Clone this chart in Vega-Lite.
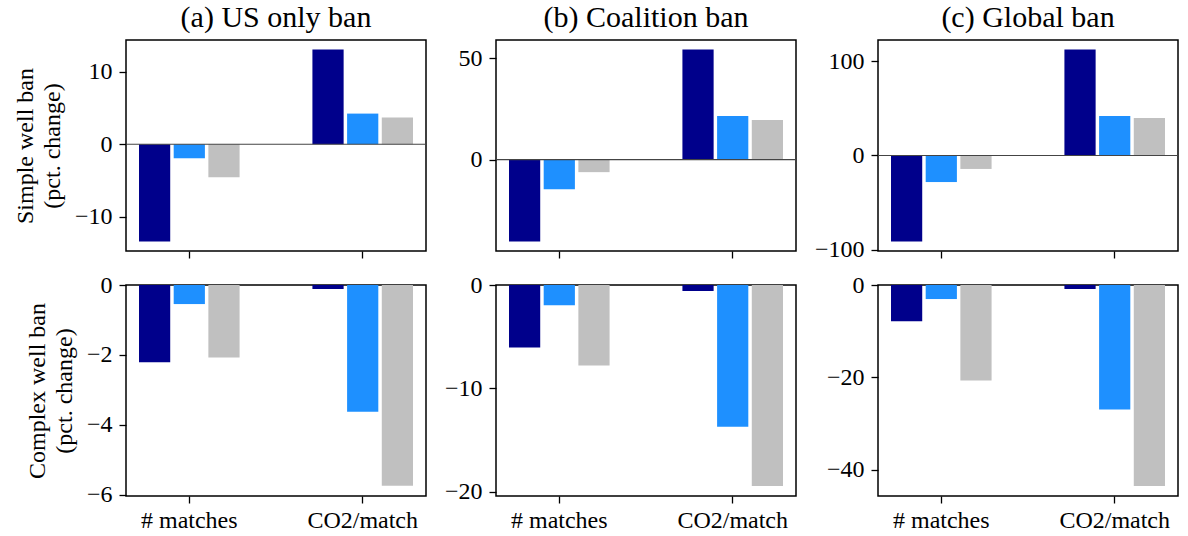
{
  "$schema": "https://vega.github.io/schema/vega-lite/v6.json",
  "padding": {"left": 12, "top": 2, "right": 0, "bottom": 0},
  "background": "white",
  "config": {
    "font": "Liberation Serif",
    "view": {"stroke": "black", "strokeWidth": 1.5},
    "axis": {
      "labelFont": "Liberation Serif",
      "labelFontSize": 24,
      "labelColor": "black",
      "titleFont": "Liberation Serif",
      "titleFontSize": 24,
      "titleFontWeight": "normal",
      "titleColor": "black",
      "titleLineHeight": 27,
      "grid": false,
      "domain": false,
      "ticks": true,
      "tickColor": "black",
      "tickWidth": 1.3,
      "tickSize": 7,
      "labelPadding": 7
    },
    "axisX": {"labelAngle": 0, "title": null, "labelPadding": 5},
    "title": {"font": "Liberation Serif", "fontSize": 30, "fontWeight": "normal", "color": "black", "offset": 7},
    "bar": {"stroke": null}
  },
  "datasets": {
    "bars": [
      {"panel": "a1", "measure": "# matches", "series": "s1", "value": -13.4},
      {"panel": "a1", "measure": "# matches", "series": "s2", "value": -1.93},
      {"panel": "a1", "measure": "# matches", "series": "s3", "value": -4.55},
      {"panel": "a1", "measure": "CO2/match", "series": "s1", "value": 13.06},
      {"panel": "a1", "measure": "CO2/match", "series": "s2", "value": 4.23},
      {"panel": "a1", "measure": "CO2/match", "series": "s3", "value": 3.68},
      {"panel": "b1", "measure": "# matches", "series": "s1", "value": -40.4},
      {"panel": "b1", "measure": "# matches", "series": "s2", "value": -14.6},
      {"panel": "b1", "measure": "# matches", "series": "s3", "value": -6.2},
      {"panel": "b1", "measure": "CO2/match", "series": "s1", "value": 54.3},
      {"panel": "b1", "measure": "CO2/match", "series": "s2", "value": 21.5},
      {"panel": "b1", "measure": "CO2/match", "series": "s3", "value": 19.5},
      {"panel": "c1", "measure": "# matches", "series": "s1", "value": -91.2},
      {"panel": "c1", "measure": "# matches", "series": "s2", "value": -28.2},
      {"panel": "c1", "measure": "# matches", "series": "s3", "value": -14.3},
      {"panel": "c1", "measure": "CO2/match", "series": "s1", "value": 112.4},
      {"panel": "c1", "measure": "CO2/match", "series": "s2", "value": 41.9},
      {"panel": "c1", "measure": "CO2/match", "series": "s3", "value": 39.8},
      {"panel": "a2", "measure": "# matches", "series": "s1", "value": -2.21},
      {"panel": "a2", "measure": "# matches", "series": "s2", "value": -0.545},
      {"panel": "a2", "measure": "# matches", "series": "s3", "value": -2.07},
      {"panel": "a2", "measure": "CO2/match", "series": "s1", "value": -0.115},
      {"panel": "a2", "measure": "CO2/match", "series": "s2", "value": -3.62},
      {"panel": "a2", "measure": "CO2/match", "series": "s3", "value": -5.74},
      {"panel": "b2", "measure": "# matches", "series": "s1", "value": -6.04},
      {"panel": "b2", "measure": "# matches", "series": "s2", "value": -1.95},
      {"panel": "b2", "measure": "# matches", "series": "s3", "value": -7.79},
      {"panel": "b2", "measure": "CO2/match", "series": "s1", "value": -0.58},
      {"panel": "b2", "measure": "CO2/match", "series": "s2", "value": -13.73},
      {"panel": "b2", "measure": "CO2/match", "series": "s3", "value": -19.45},
      {"panel": "c2", "measure": "# matches", "series": "s1", "value": -7.83},
      {"panel": "c2", "measure": "# matches", "series": "s2", "value": -3.04},
      {"panel": "c2", "measure": "# matches", "series": "s3", "value": -20.65},
      {"panel": "c2", "measure": "CO2/match", "series": "s1", "value": -0.87},
      {"panel": "c2", "measure": "CO2/match", "series": "s2", "value": -26.96},
      {"panel": "c2", "measure": "CO2/match", "series": "s3", "value": -43.5}
    ],
    "zero": [{"ref": 0}]
  },
  "columns": 3,
  "align": "each",
  "bounds": "full",
  "spacing": {"row": 9, "column": 15},
  "resolve": {"scale": {"x": "independent", "y": "independent", "xOffset": "independent"}},
  "concat": [
    {
      "width": 300, "height": 211,
      "title": "(a) US only ban",
      "layer": [
        {
          "data": {"name": "bars"},
          "transform": [{"filter": "datum.panel == 'a1'"}],
          "mark": "bar",
          "encoding": {
            "x": {"field": "measure", "type": "nominal", "sort": ["# matches", "CO2/match"], "scale": {"paddingInner": 0.4, "paddingOuter": 0.065}, "axis": {"labels": false, "title": null}},
            "xOffset": {"field": "series", "type": "nominal", "scale": {"paddingInner": 0.1, "paddingOuter": 0.05}},
            "y": {"field": "value", "type": "quantitative", "scale": {"domain": [-14.72, 14.38], "nice": false, "zero": false}, "axis": {"values": [-10, 0, 10], "title": ["Simple well ban", "(pct. change)"], "titlePadding": 10}},
            "color": {"field": "series", "type": "nominal", "scale": {"domain": ["s1", "s2", "s3"], "range": ["#00008b", "#1e90ff", "#c0c0c0"]}, "legend": null}
          }
        },
        {
          "data": {"name": "zero"},
          "mark": {"type": "rule", "color": "#444444", "strokeWidth": 1.2},
          "encoding": {"y": {"field": "ref", "type": "quantitative"}}
        }
      ]
    },
    {
      "width": 300, "height": 211,
      "title": "(b) Coalition ban",
      "layer": [
        {
          "data": {"name": "bars"},
          "transform": [{"filter": "datum.panel == 'b1'"}],
          "mark": "bar",
          "encoding": {
            "x": {"field": "measure", "type": "nominal", "sort": ["# matches", "CO2/match"], "scale": {"paddingInner": 0.4, "paddingOuter": 0.065}, "axis": {"labels": false, "title": null}},
            "xOffset": {"field": "series", "type": "nominal", "scale": {"paddingInner": 0.1, "paddingOuter": 0.05}},
            "y": {"field": "value", "type": "quantitative", "scale": {"domain": [-45.1, 59.0], "nice": false, "zero": false}, "axis": {"values": [0, 50], "title": null}},
            "color": {"field": "series", "type": "nominal", "scale": {"domain": ["s1", "s2", "s3"], "range": ["#00008b", "#1e90ff", "#c0c0c0"]}, "legend": null}
          }
        },
        {
          "data": {"name": "zero"},
          "mark": {"type": "rule", "color": "#444444", "strokeWidth": 1.2},
          "encoding": {"y": {"field": "ref", "type": "quantitative"}}
        }
      ]
    },
    {
      "width": 300, "height": 211,
      "title": "(c) Global ban",
      "layer": [
        {
          "data": {"name": "bars"},
          "transform": [{"filter": "datum.panel == 'c1'"}],
          "mark": "bar",
          "encoding": {
            "x": {"field": "measure", "type": "nominal", "sort": ["# matches", "CO2/match"], "scale": {"paddingInner": 0.4, "paddingOuter": 0.065}, "axis": {"labels": false, "title": null}},
            "xOffset": {"field": "series", "type": "nominal", "scale": {"paddingInner": 0.1, "paddingOuter": 0.05}},
            "y": {"field": "value", "type": "quantitative", "scale": {"domain": [-101.4, 122.6], "nice": false, "zero": false}, "axis": {"values": [-100, 0, 100], "title": null}},
            "color": {"field": "series", "type": "nominal", "scale": {"domain": ["s1", "s2", "s3"], "range": ["#00008b", "#1e90ff", "#c0c0c0"]}, "legend": null}
          }
        },
        {
          "data": {"name": "zero"},
          "mark": {"type": "rule", "color": "#444444", "strokeWidth": 1.2},
          "encoding": {"y": {"field": "ref", "type": "quantitative"}}
        }
      ]
    },
    {
      "width": 300, "height": 211,
      "data": {"name": "bars"},
      "transform": [{"filter": "datum.panel == 'a2'"}],
      "mark": "bar",
      "encoding": {
        "x": {"field": "measure", "type": "nominal", "sort": ["# matches", "CO2/match"], "scale": {"paddingInner": 0.4, "paddingOuter": 0.065}, "axis": {"title": null}},
        "xOffset": {"field": "series", "type": "nominal", "scale": {"paddingInner": 0.1, "paddingOuter": 0.05}},
        "y": {"field": "value", "type": "quantitative", "scale": {"domain": [-6.03, 0], "nice": false, "zero": false}, "axis": {"values": [-6, -4, -2, 0], "title": ["Complex well ban", "(pct. change)"], "titlePadding": 10}},
        "color": {"field": "series", "type": "nominal", "scale": {"domain": ["s1", "s2", "s3"], "range": ["#00008b", "#1e90ff", "#c0c0c0"]}, "legend": null}
      }
    },
    {
      "width": 300, "height": 211,
      "data": {"name": "bars"},
      "transform": [{"filter": "datum.panel == 'b2'"}],
      "mark": "bar",
      "encoding": {
        "x": {"field": "measure", "type": "nominal", "sort": ["# matches", "CO2/match"], "scale": {"paddingInner": 0.4, "paddingOuter": 0.065}, "axis": {"title": null}},
        "xOffset": {"field": "series", "type": "nominal", "scale": {"paddingInner": 0.1, "paddingOuter": 0.05}},
        "y": {"field": "value", "type": "quantitative", "scale": {"domain": [-20.42, 0], "nice": false, "zero": false}, "axis": {"values": [-20, -10, 0], "title": null}},
        "color": {"field": "series", "type": "nominal", "scale": {"domain": ["s1", "s2", "s3"], "range": ["#00008b", "#1e90ff", "#c0c0c0"]}, "legend": null}
      }
    },
    {
      "width": 300, "height": 211,
      "data": {"name": "bars"},
      "transform": [{"filter": "datum.panel == 'c2'"}],
      "mark": "bar",
      "encoding": {
        "x": {"field": "measure", "type": "nominal", "sort": ["# matches", "CO2/match"], "scale": {"paddingInner": 0.4, "paddingOuter": 0.065}, "axis": {"title": null}},
        "xOffset": {"field": "series", "type": "nominal", "scale": {"paddingInner": 0.1, "paddingOuter": 0.05}},
        "y": {"field": "value", "type": "quantitative", "scale": {"domain": [-45.68, 0], "nice": false, "zero": false}, "axis": {"values": [-40, -20, 0], "title": null}},
        "color": {"field": "series", "type": "nominal", "scale": {"domain": ["s1", "s2", "s3"], "range": ["#00008b", "#1e90ff", "#c0c0c0"]}, "legend": null}
      }
    }
  ]
}
